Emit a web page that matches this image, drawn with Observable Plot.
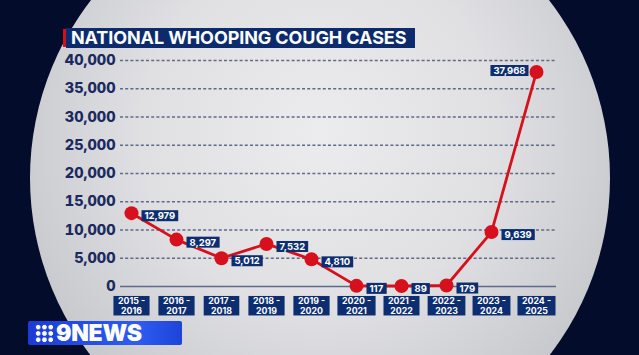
<!DOCTYPE html>
<html><head><meta charset="utf-8">
<script src="https://cdn.jsdelivr.net/npm/d3@7"></script>
<script src="https://cdn.jsdelivr.net/npm/@observablehq/plot@0.6"></script>
<style>
html,body{margin:0;padding:0;width:639px;height:355px;overflow:hidden;background:#030c2a;font-family:Inter,"Open Sans",sans-serif}
#stage{position:relative;width:639px;height:355px;overflow:hidden}
#disc{position:absolute;left:30px;top:-112px;width:580px;height:580px;border-radius:50%;
  background:radial-gradient(circle at 50% 42%, #ececee 0%, #e0e0e3 40%, #cbccd0 68%, #b3b5bb 100%)}
#title{position:absolute;left:66px;top:28px;width:344px;height:20px;padding-left:5px;background:#0b2b6c;color:#fff;
  font:700 18px/20px Inter,sans-serif;white-space:nowrap;letter-spacing:-0.1px}
#stripe{position:absolute;left:63px;top:29px;width:3px;height:18px;background:#d0101c}
#chart{position:absolute;left:0;top:0}
#logo{position:absolute;left:28px;top:321px;width:154px;height:24px;background:linear-gradient(90deg,#1b3bd6,#2f5cf2 70%,#1d44d8);
  border-radius:2px;color:#fff;font:900 23px/24px Inter,sans-serif;letter-spacing:-0.3px}
#logo .dots{position:absolute;left:7px;top:3px;width:19px;height:19px;background-image:radial-gradient(circle,#fff 2.2px,transparent 2.5px);background-size:6.3px 6.3px}
#logo .txt{position:absolute;left:28px;top:0}
</style></head>
<body>
<div id="stage">
  <div id="disc"></div>
  <div id="stripe"></div>
  <div id="title">NATIONAL WHOOPING COUGH CASES</div>
  <div id="chart"></div>
  <div id="logo"><span class="dots"></span><span class="txt">9NEWS</span></div>
</div>
<script>
const seasons = ["2015-2016","2016-2017","2017-2018","2018-2019","2019-2020","2020-2021","2021-2022","2022-2023","2023-2024","2024-2025"];
const tickLabels = ["2015 -\n2016","2016 -\n2017","2017 -\n2018","2018 -\n2019","2019 -\n2020","2020 -\n2021","2021 -\n2022","2022 -\n2023","2023 -\n2024","2024 -\n2025"];
const cases = [12979, 8297, 5012, 7532, 4810, 117, 89, 179, 9639, 37968];
const yTicks = [0, 5000, 10000, 15000, 20000, 25000, 30000, 35000, 40000];

const data = seasons.map((s, i) => ({season: s, cases: cases[i]}));
const labelFor = new Map(seasons.map((s, i) => [s, tickLabels[i]]));
const fmt = d3.format(",");
const RED = "#d6101c", NAVY = "#0c2d6f";

const chart = Plot.plot({
  width: 639, height: 355,
  marginTop: 60, marginBottom: 69, marginLeft: 120, marginRight: 83,
  style: {background: "transparent", fontFamily: "Inter, sans-serif"},
  x: {type: "point", domain: seasons, range: [128, 539], padding: 0},
  y: {domain: [0, 40000], range: [286, 60]},
  marks: [
    Plot.ruleY(yTicks.filter(d => d > 0), {stroke: "#5f6a8a", strokeWidth: 1.3, strokeDasharray: "3,2.2"}),
    Plot.ruleY([0], {stroke: "#5f6a8a", strokeWidth: 1.6}),
    Plot.axisY({ticks: yTicks, tickFormat: fmt, tickSize: 0, tickPadding: 5, label: null,
      fill: "#1b2a5e", fontSize: 14.5, fontWeight: 800}),
    Plot.axisX({tickFormat: d => labelFor.get(d), tickSize: 0, tickPadding: 11, label: null,
      fill: "#fff", fontSize: 8.8, fontWeight: 700, lineHeight: 1.1, className: "xlab"}),
    Plot.line(data, {x: "season", y: "cases", stroke: RED, strokeWidth: 2.8}),
    Plot.dot(data, {x: "season", y: "cases", r: 7, fill: RED}),
    Plot.text(data.filter(d => d.season !== "2024-2025"), {x: "season", y: "cases", text: d => fmt(d.cases),
      dx: 13, dy: 3, textAnchor: "start", fill: "#fff", fontSize: 9.5, fontWeight: 700, className: "vlab"}),
    Plot.text(data.filter(d => d.season === "2024-2025"), {x: "season", y: "cases", text: d => fmt(d.cases),
      dx: -11, dy: -1, textAnchor: "end", fill: "#fff", fontSize: 9.5, fontWeight: 700, className: "vlab"})
  ]
});
document.getElementById("chart").appendChild(chart);

function boxify(selector, padX, fixedH) {
  chart.querySelectorAll(selector).forEach(t => {
    const b = t.getBBox();
    const r = document.createElementNS("http://www.w3.org/2000/svg", "rect");
    const h = fixedH || b.height;
    r.setAttribute("x", b.x - padX);
    r.setAttribute("y", b.y + b.height / 2 - h / 2);
    r.setAttribute("width", b.width + 2 * padX);
    r.setAttribute("height", h);
    r.setAttribute("fill", NAVY);
    if (t.getAttribute("transform")) r.setAttribute("transform", t.getAttribute("transform"));
    t.parentNode.insertBefore(r, t);
  });
}
boxify(".vlab text", 3, 11);
boxify(".xlab text", 4.5, 19.5);
</script>
</body></html>
